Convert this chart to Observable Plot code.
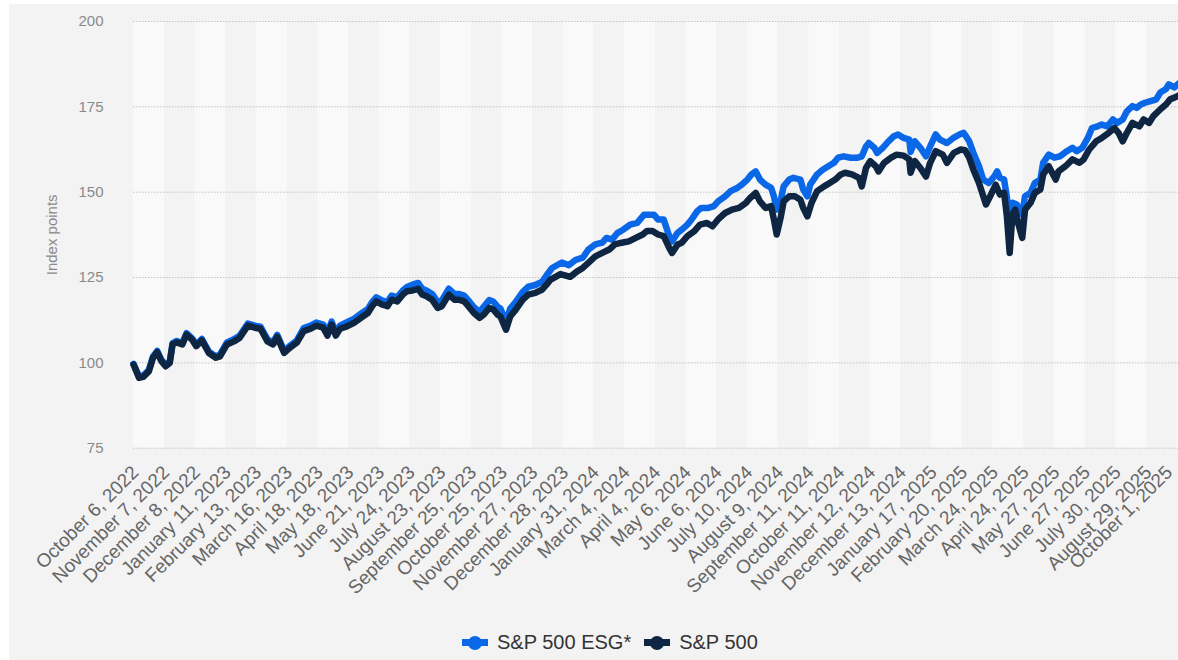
<!DOCTYPE html>
<html><head><meta charset="utf-8">
<script src="https://cdn.jsdelivr.net/npm/d3@7"></script>
<script src="https://cdn.jsdelivr.net/npm/@observablehq/plot@0.6"></script>
<style>
html,body{margin:0;padding:0;background:#fff;}
#frame{position:absolute;left:9px;top:4px;width:1169px;height:656px;background:#f3f3f3;overflow:hidden;font-family:"Liberation Sans",Arial,sans-serif;}
#chart{position:absolute;left:0;top:0;}
#legend{position:absolute;top:627px;left:453px;display:flex;align-items:center;font-size:20px;line-height:23px;color:#333;white-space:nowrap;}
.item{display:flex;align-items:center;margin-right:13px;}
.sym{position:relative;width:26px;height:14px;margin-right:9px;}
.sym .ln{position:absolute;left:0;top:3.5px;width:26px;height:7px;}
.sym .dot{position:absolute;left:6px;top:0;width:14px;height:14px;border-radius:50%;}
</style></head><body>
<div id="frame"><div id="chart"></div><div id="legend"></div></div>
<script>
// Axis categories (every 22nd trading session)
const tickLabels = ["October 6, 2022","November 7, 2022","December 8, 2022","January 11, 2023","February 13, 2023","March 16, 2023","April 18, 2023","May 18, 2023","June 21, 2023","July 24, 2023","August 23, 2023","September 25, 2023","October 25, 2023","November 27, 2023","December 28, 2023","January 31, 2024","March 4, 2024","April 4, 2024","May 6, 2024","June 6, 2024","July 10, 2024","August 9, 2024","September 11, 2024","October 11, 2024","November 12, 2024","December 13, 2024","January 17, 2025","February 20, 2025","March 24, 2025","April 24, 2025","May 27, 2025","June 27, 2025","July 30, 2025","August 29, 2025","October 1, 2025"];
const tickInterval = 22;
const lastSession = 749;
const yTicks = [75, 100, 125, 150, 175, 200];

const seriesNames = ["S&P 500 ESG*", "S&P 500"];
const seriesColors = ["#0a68e8", "#0e2642"];

// S&P 500 ESG* (session number, index points)
const esgSession = [0,4,7,11,14,17,20,23,26,28,31,35,38,42,45,49,54,59,62,67,72,76,82,87,91,96,100,103,108,112,117,122,127,131,136,139,142,145,148,153,158,163,168,171,174,178,182,185,189,193,196,200,204,207,210,214,218,221,226,230,233,237,240,244,248,251,255,258,261,263,267,270,274,279,283,288,293,296,300,307,312,317,322,326,331,336,339,343,347,351,356,361,366,369,373,376,380,384,386,390,393,397,400,404,407,412,416,419,424,428,433,436,440,443,446,449,453,457,459,461,464,466,470,473,478,480,483,485,490,494,498,502,505,509,514,519,522,525,527,531,533,537,540,545,548,552,556,557,560,564,568,571,575,578,583,588,592,595,599,602,606,609,613,617,619,621,624,626,628,630,633,637,639,643,646,650,652,656,660,664,669,673,676,680,684,687,691,694,698,702,705,709,712,716,719,722,725,729,733,736,740,742,746,749];
const esgValue = [99.7,96.0,96.3,97.9,101.9,103.5,100.9,99.4,100.4,105.8,106.4,105.8,108.7,107.2,105.3,107.0,103.3,101.9,102.5,106.0,106.9,107.9,111.5,110.9,110.6,106.9,106.0,108.2,103.5,105.0,106.5,110.2,110.9,111.8,111.2,108.9,112.1,108.9,110.9,111.9,112.9,114.4,115.8,117.8,119.2,118.3,117.8,119.7,119.2,121.2,122.2,122.9,123.4,121.7,121.2,120.2,117.8,118.3,121.7,120.2,120.2,119.7,118.3,116.3,114.9,116.4,118.4,117.9,116.4,115.9,112.0,115.9,117.9,120.8,122.3,122.8,123.8,125.6,127.8,129.4,128.6,130.2,130.8,133.2,134.7,135.2,136.6,136.1,138.1,139.0,140.5,141.0,143.4,143.4,143.4,142.0,142.0,137.1,135.6,138.1,139.0,140.5,142.0,144.4,145.4,145.4,145.9,147.3,148.8,150.3,151.3,152.2,153.7,155.2,156.1,153.7,152.2,151.3,148.8,144.9,147.8,151.7,153.7,154.2,153.7,150.8,148.8,152.2,155.2,156.6,157.6,158.6,160.1,160.5,160.1,160.1,160.5,163.4,164.4,163.0,161.5,163.0,164.4,166.4,166.9,165.9,165.4,161.8,164.9,163.0,160.5,163.4,166.9,165.4,164.4,166.0,166.9,167.4,164.9,161.5,157.6,153.7,152.7,154.6,156.1,154.2,153.7,148.5,140.0,146.9,146.4,143.5,148.8,149.8,152.7,153.7,158.6,161.0,160.1,160.5,162.0,163.0,162.0,163.0,165.9,168.8,169.3,169.8,169.3,171.3,170.3,171.3,173.7,175.2,174.7,175.7,176.2,176.7,177.2,179.2,180.2,181.6,180.7,181.8];

// S&P 500 (session number, index points)
const spSession = [0,4,7,11,14,17,20,23,26,28,31,35,38,42,45,49,54,59,62,67,72,76,82,87,91,96,100,103,108,112,117,122,127,131,136,139,142,145,148,153,158,163,168,171,174,178,182,185,189,193,196,200,204,207,210,214,218,221,226,230,233,237,240,244,248,251,255,258,261,263,267,270,274,279,283,288,293,296,299,306,313,318,322,326,331,336,341,345,350,355,360,365,368,372,376,380,384,386,390,393,397,402,406,411,415,419,424,429,434,439,442,446,449,453,457,459,461,464,466,470,474,478,480,483,486,490,495,499,503,507,510,515,520,522,525,528,532,534,538,543,547,552,556,557,560,564,568,571,575,580,583,588,593,596,599,602,606,611,614,618,621,624,626,628,630,632,634,637,639,643,646,650,652,656,661,663,668,673,678,681,685,690,694,699,703,706,709,712,716,721,724,728,731,736,740,743,746,749];
const spValue = [99.5,95.6,95.9,97.5,101.5,103.1,100.5,99.0,100.0,105.4,106.0,105.4,108.3,106.8,104.9,106.6,102.9,101.5,101.9,105.4,106.3,107.3,110.9,110.3,110.0,106.3,105.4,107.6,102.9,104.4,105.9,109.3,110.0,110.9,110.3,108.0,111.2,108.0,110.0,110.7,111.7,113.2,114.6,116.6,118.0,117.1,116.6,118.5,118.0,120.0,121.0,121.2,121.7,120.0,119.5,118.5,116.1,116.6,120.0,118.5,118.5,118.0,116.6,114.6,113.2,114.1,116.1,115.6,114.1,113.6,109.7,113.6,115.6,118.5,120.0,120.5,121.5,122.9,124.4,126.0,125.2,126.8,127.8,129.3,131.2,132.2,133.2,134.7,135.2,135.6,136.6,137.6,138.6,138.6,137.6,137.1,133.7,132.2,134.7,135.2,137.1,138.6,140.5,141.0,140.0,142.0,143.9,144.9,145.4,146.9,148.3,149.8,147.3,145.4,145.9,142.0,137.6,142.9,147.3,148.8,148.8,147.8,145.4,142.9,146.9,150.3,151.7,152.7,153.7,155.2,155.7,155.2,154.2,151.7,157.1,159.1,157.6,156.1,158.6,160.1,161.0,160.7,159.6,155.7,159.1,157.1,154.6,158.6,162.0,161.0,158.6,161.5,162.5,162.3,160.1,156.6,152.7,146.4,148.8,152.2,149.3,149.8,142.9,132.2,143.5,144.9,141.0,136.6,144.9,146.9,149.8,150.8,155.2,157.6,153.7,156.1,157.6,159.6,158.6,159.6,162.5,164.9,165.9,167.4,168.8,167.4,164.9,167.4,170.3,169.3,171.3,170.3,172.3,174.3,175.7,177.2,177.7,178.3];

const esg = esgSession.map((s, i) => ({session: s, value: esgValue[i]}));
const sp = spSession.map((s, i) => ({session: s, value: spValue[i]}));
const tickSessions = tickLabels.map((_, i) => i * tickInterval);
const bands = tickSessions.filter((_, i) => i % 2 === 0);
const fmt = d => tickLabels[Math.round(d / tickInterval)];
const xAxisStyle = {tickSize: 0, tickPadding: 21, tickRotate: -45, fontSize: 19, fill: "#666", label: null, tickFormat: fmt};

const W = 1169, H = 560, plotBottom = 443.7;
const chart = Plot.plot({
  width: W, height: H,
  marginLeft: 124, marginRight: 0, marginTop: 17, marginBottom: H - plotBottom,
  style: {background: "transparent", fontFamily: "'Liberation Sans', Arial, sans-serif", overflow: "visible"},
  x: {domain: [0, lastSession], axis: null},
  y: {domain: [75, 200], axis: null},
  marks: [
    Plot.rect(bands, {x1: d => d, x2: d => Math.min(d + tickInterval, lastSession), y1: 75, y2: 200, fill: "#f9f9f9"}),
    Plot.gridY(yTicks, {stroke: "#c2c2c2", strokeOpacity: 1, strokeDasharray: "1.5,1.5"}),
    Plot.axisY(yTicks, {tickSize: 0, tickPadding: 30, fontSize: 15, fill: "#8a8a8a", label: "Index points", labelAnchor: "center", labelArrow: "none", labelOffset: 87}),
    Plot.axisX(tickSessions.slice(0, -1), {...xAxisStyle, dx: 2}),
    Plot.axisX(tickSessions.slice(-1), {...xAxisStyle, dx: -8}),
    Plot.line(esg, {x: "session", y: "value", stroke: seriesColors[0], strokeWidth: 6.5, strokeLinejoin: "round", strokeLinecap: "round"}),
    Plot.line(sp, {x: "session", y: "value", stroke: seriesColors[1], strokeWidth: 6.5, strokeLinejoin: "round", strokeLinecap: "round"})
  ]
});
document.getElementById("chart").appendChild(chart);

const legend = document.getElementById("legend");
seriesNames.forEach((name, i) => {
  const item = document.createElement("div");
  item.className = "item";
  item.innerHTML = `<div class="sym"><div class="ln" style="background:${seriesColors[i]}"></div><div class="dot" style="background:${seriesColors[i]}"></div></div><span>${name.replace("&", "&amp;")}</span>`;
  legend.appendChild(item);
});
</script>
</body></html>
